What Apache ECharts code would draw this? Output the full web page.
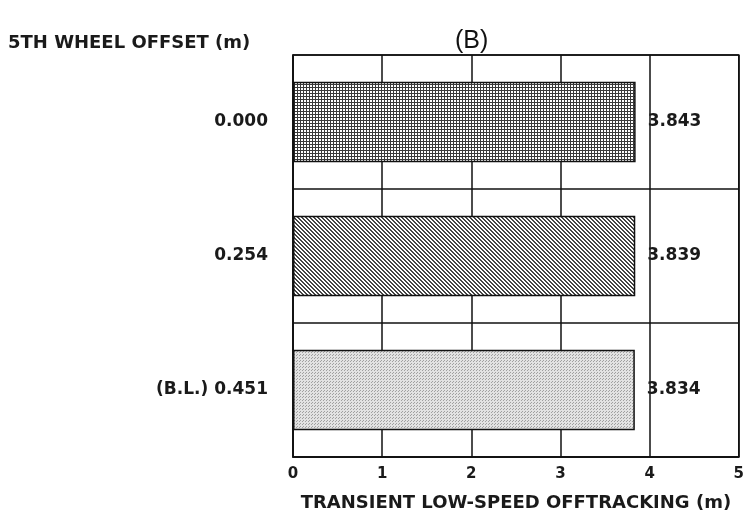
<!DOCTYPE html>
<html><head><meta charset="utf-8">
<script src="https://cdn.jsdelivr.net/npm/echarts@6/dist/echarts.min.js"></script>
<style>html,body{margin:0;padding:0;background:#fff}#c{width:747px;height:518px}</style>
</head><body><div id="c"></div>
<script>
const categories = ['0.000', '0.254', '(B.L.) 0.451'];
const values = [3.843, 3.839, 3.834];
const xTicks = [0, 1, 2, 3, 4, 5];

function pattern(kind) {
  const c = document.createElement('canvas');
  const s = kind === 'diag' ? 4 : 3;
  c.width = s; c.height = s;
  const g = c.getContext('2d');
  if (kind === 'grid') {
    g.fillStyle = '#ffffff'; g.fillRect(0, 0, s, s);
    g.fillStyle = '#3a3a3a'; g.fillRect(0, 0, s, 1); g.fillRect(0, 0, 1, s);
  } else if (kind === 'diag') {
    g.fillStyle = '#ffffff'; g.fillRect(0, 0, s, s);
    g.fillStyle = '#444444';
    for (let i = 0; i < s; i++) { g.fillRect(i, i, 1, 1); g.fillRect((i + 1) % s, i, 1, 1); }
  } else {
    g.fillStyle = '#e2e2e2'; g.fillRect(0, 0, s, s);
    g.fillStyle = '#a0a0a0'; g.fillRect(0, 0, 1, 1); g.fillRect(2, 1, 1, 1);
  }
  return { image: c, repeat: 'repeat' };
}
const fills = [pattern('grid'), pattern('diag'), pattern('dots')];

const font = 'DejaVu Sans, Verdana, sans-serif';
const chart = echarts.init(document.getElementById('c'));
chart.setOption({
  animation: false,
  backgroundColor: '#ffffff',
  grid: { left: 293, right: 4, top: 55, bottom: 61, show: true, borderColor: '#111', borderWidth: 1.5 },
  title: [
    { text: '5TH WHEEL OFFSET (m)', left: 3, top: 29, textStyle: { fontFamily: font, fontWeight: 'bold', fontSize: 18, color: '#1a1a1a' } },
    { text: '(B)', left: 450, top: 24, textStyle: { fontFamily: 'Liberation Sans, Arial, sans-serif', fontWeight: 'normal', fontSize: 25, color: '#111' } }
  ],
  xAxis: {
    type: 'value', min: 0, max: 5, interval: 1,
    axisLine: { show: true, lineStyle: { color: '#111', width: 1.5 } },
    axisTick: { show: false },
    splitLine: { show: true, lineStyle: { color: '#111', width: 1.5 } },
    axisLabel: { fontFamily: font, fontWeight: 'bold', fontSize: 15, color: '#1a1a1a', margin: 10,
      formatter: v => xTicks.includes(v) ? String(v) : '' },
    name: 'TRANSIENT LOW-SPEED OFFTRACKING (m)', nameLocation: 'middle', nameGap: 37,
    nameTextStyle: { fontFamily: font, fontWeight: 'bold', fontSize: 18, color: '#1a1a1a' }
  },
  yAxis: {
    type: 'category', data: categories, inverse: true,
    axisLine: { show: true, lineStyle: { color: '#111', width: 1.5 } },
    axisTick: { show: false },
    splitLine: { show: true, lineStyle: { color: '#111', width: 1.5 } },
    axisLabel: { fontFamily: font, fontWeight: 'bold', fontSize: 17, color: '#1a1a1a', margin: 25 }
  },
  series: [{
    type: 'bar', barWidth: '60%',
    data: values.map((v, i) => ({ value: v, itemStyle: { color: fills[i] } })),
    itemStyle: { borderColor: '#111', borderWidth: 1.5 },
    label: { show: true, position: 'right', distance: 12, formatter: p => p.value.toFixed(3),
      fontFamily: font, fontWeight: 'bold', fontSize: 17, color: '#1a1a1a' }
  }]
});
</script></body></html>
